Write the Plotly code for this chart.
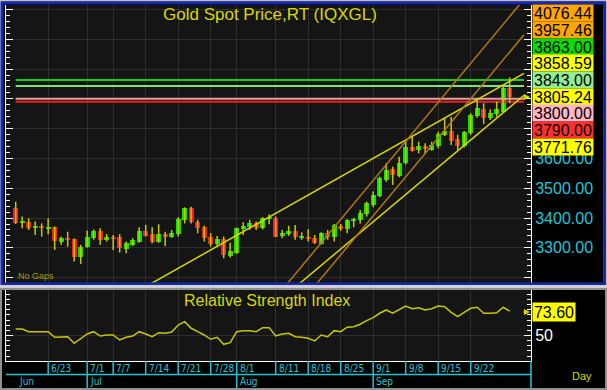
import plotly.graph_objects as go

W, H = 607, 390

# ---------------- data ----------------
tick_idx = [5, 11, 15, 20, 25, 30, 34, 40, 45, 50, 55, 60, 65, 70]
tick_labels = ["6/23", "7/1", "7/7", "7/14", "7/21", "7/28", "8/1", "8/11",
               "8/18", "8/25", "9/1", "9/8", "9/15", "9/22"]
month_idx = [0, 11, 34, 55]
month_labels = ["Jun", "Jul", "Aug", "Sep"]

opens = [3433, 3385, 3388, 3368, 3374, 3366, 3369, 3321, 3332, 3329,
         3270, 3302, 3332, 3357, 3327, 3338, 3338, 3296, 3310, 3321,
         3358, 3346, 3321, 3346, 3338, 3346, 3394, 3433, 3388, 3369,
         3338, 3313, 3329, 3273, 3282, 3362, 3371, 3382, 3366, 3396,
         3401, 3340, 3347, 3357, 3334, 3338, 3334, 3313, 3349, 3338,
         3373, 3362, 3392, 3394, 3414, 3444, 3474, 3528, 3564, 3541,
         3584, 3640, 3628, 3642, 3628, 3642, 3679, 3692, 3664, 3642,
         3685, 3743, 3765, 3735, 3748, 3757, 3836]
highs = [3455, 3405, 3399, 3388, 3382, 3399, 3372, 3338, 3354, 3331,
         3310, 3358, 3362, 3366, 3346, 3343, 3346, 3321, 3332, 3369,
         3377, 3369, 3379, 3354, 3360, 3403, 3436, 3438, 3394, 3374,
         3349, 3340, 3338, 3317, 3368, 3386, 3394, 3388, 3403, 3413,
         3405, 3360, 3374, 3377, 3352, 3362, 3343, 3352, 3360, 3380,
         3380, 3396, 3401, 3427, 3455, 3489, 3539, 3584, 3572, 3606,
         3662, 3673, 3656, 3651, 3656, 3690, 3735, 3740, 3679, 3692,
         3752, 3799, 3785, 3765, 3791, 3841, 3872]
lows = [3380, 3366, 3360, 3343, 3338, 3346, 3293, 3310, 3304, 3254,
        3246, 3300, 3327, 3310, 3321, 3293, 3284, 3282, 3306, 3317,
        3338, 3315, 3317, 3306, 3334, 3338, 3382, 3382, 3349, 3321,
        3304, 3304, 3265, 3268, 3280, 3343, 3360, 3360, 3362, 3379,
        3336, 3332, 3340, 3327, 3327, 3321, 3313, 3310, 3327, 3321,
        3357, 3349, 3369, 3382, 3405, 3436, 3470, 3522, 3511, 3537,
        3580, 3623, 3617, 3615, 3626, 3634, 3675, 3645, 3628, 3637,
        3679, 3737, 3716, 3729, 3740, 3754, 3785]
closes = [3382, 3390, 3366, 3373, 3368, 3370, 3323, 3334, 3327, 3270,
          3304, 3338, 3357, 3327, 3338, 3332, 3299, 3315, 3327, 3358,
          3341, 3321, 3346, 3338, 3351, 3397, 3433, 3388, 3368, 3334,
          3313, 3330, 3276, 3291, 3366, 3373, 3382, 3366, 3399, 3403,
          3338, 3351, 3358, 3336, 3338, 3332, 3315, 3349, 3338, 3377,
          3362, 3394, 3397, 3418, 3450, 3478, 3534, 3561, 3545, 3586,
          3640, 3625, 3642, 3631, 3645, 3682, 3692, 3659, 3642, 3690,
          3746, 3768, 3735, 3752, 3765, 3836, 3805.24]

rsi = [56.3, 56.3, 53.7, 53.7, 53.7, 53.7, 48.2, 48.8, 48.8, 42.4,
       47.3, 51.5, 53.7, 49.5, 50.5, 50.5, 45.6, 48.2, 49.5, 53.7,
       51.5, 48.8, 52.7, 52.1, 53.4, 60.2, 63.4, 57.0, 53.7, 50.5,
       46.3, 48.2, 41.4, 43.0, 53.7, 54.7, 54.7, 53.7, 57.6, 57.6,
       49.5, 51.5, 52.1, 48.8, 48.2, 47.3, 44.7, 50.5, 48.8, 54.7,
       53.7, 58.0, 58.5, 60.9, 64.4, 67.3, 71.6, 74.8, 71.6, 74.8,
       78.6, 76.0, 77.0, 74.8, 76.0, 78.6, 78.0, 72.5, 68.3, 72.5,
       76.4, 77.4, 71.6, 71.6, 72.1, 77.4, 73.6]

# horizontal price levels
h_levels = [3863.00, 3843.00, 3800.00, 3790.00]
h_colors = ["#10d010", "#80e080", "#e0a0a0", "#f02020"]
h_span = [0, 78.2]

# trend lines: (start idx, start price, end idx, end price, colour)
trend_lines = [
    (20, 3169.8, 78.2, 3885.6, "#d8d800"),
    (40, 3113.0, 78.2, 3812.0, "#d8d800"),
    (38, 3080.8, 78.2, 4134.1, "#b07810"),
    (40, 3014.3, 78.2, 4015.1, "#b07810"),
]

# right-side value boxes
box_values = [4076.44, 3957.46, 3863.00, 3858.59, 3843.00, 3805.24, 3800.00, 3790.00, 3771.76]
box_colors = ["#ffa500", "#ffa500", "#00e000", "#ffff00", "#90ee90", "#ffff00", "#ffb6c1", "#ff3030", "#ffff00"]

price_ticks = [3200, 3300, 3400, 3500, 3600, 3700, 3800, 3900, 4000, 4100]
price_ticktext = ["", "3300.00", "3400.00", "3500.00", "3600.00", "", "", "", "", ""]

rsi_last = 73.60

# ---------------- helpers ----------------
def px(x):
    return x / W

def py(y):
    return 1 - y / H

n = len(closes)
xs = list(range(n))
X_RANGE = [-1.49, 79.28]
GRID = "#2e2e2e"
CYAN = "#18c8d8"
YEL = "#d8d800"
NARROW = "Liberation Sans Narrow, DejaVu Sans Condensed, Arial Narrow, sans-serif"
ARIAL = "Liberation Sans, Arial, sans-serif"

fig = go.Figure()

# horizontal levels
for lvl, col in zip(h_levels, h_colors):
    fig.add_trace(go.Scatter(x=h_span, y=[lvl, lvl], mode="lines",
                             line=dict(color=col, width=2), hoverinfo="skip",
                             xaxis="x", yaxis="y"))

# wicks
wx, wy = [], []
for i in range(n):
    wx += [i, i, None]
    wy += [lows[i], highs[i], None]
fig.add_trace(go.Scatter(x=wx, y=wy, mode="lines", line=dict(color="#c8c800", width=1.5),
                         hoverinfo="skip", xaxis="x", yaxis="y"))

# bodies
base = [min(o, c) for o, c in zip(opens, closes)]
hgt = [max(abs(c - o), 3) for o, c in zip(opens, closes)]
cols = ["#00e600" if c >= o else "#f02020" for o, c in zip(opens, closes)]
fig.add_trace(go.Bar(x=xs, y=hgt, base=base, width=0.75, marker=dict(color=cols, line=dict(width=0)),
                     hoverinfo="skip", xaxis="x", yaxis="y"))

# trend lines
for x0, y0, x1, y1, col in trend_lines:
    fig.add_trace(go.Scatter(x=[x0, x1], y=[y0, y1], mode="lines",
                             line=dict(color=col, width=1.5), hoverinfo="skip",
                             xaxis="x", yaxis="y"))

# RSI
fig.add_trace(go.Scatter(x=xs, y=rsi, mode="lines", line=dict(color="#c8c800", width=1.5),
                         hoverinfo="skip", xaxis="x2", yaxis="y2"))


def ann(x, y, text, size, color, xref="paper", xanchor="center", **kw):
    d = dict(x=x, y=y, xref=xref, yref="paper", text=text, showarrow=False,
             xanchor=xanchor, yanchor="middle", font=dict(family=kw.pop("family", ARIAL), size=size, color=color))
    d.update(kw)
    return d


def arrow(x, y):
    return dict(x=x, y=y, xref="paper", yref="paper", text="", showarrow=True,
                ax=-8, ay=0, arrowhead=2, arrowsize=0.8, arrowwidth=1.5, arrowcolor=YEL)


annotations = []
annotations.append(ann(px(270), py(15), "Gold Spot Price,RT (IQXGL)", 17, YEL))
annotations.append(ann(px(267), py(300), "Relative Strength Index", 16, YEL))
annotations.append(ann(px(16), py(276), "No Gaps", 9, "#a0a000", xanchor="left"))
for k, (v, c) in enumerate(zip(box_values, box_colors)):
    annotations.append(ann(px(563), py(13.3 + 16.67 * k), f"{v:.2f}", 16, "black",
                           bgcolor=c, width=60, height=16, borderpad=0))
annotations.append(arrow(px(530), py(97)))
annotations.append(ann(px(554), py(312.3), f"{rsi_last:.2f}", 16, "black",
                       bgcolor="#ffff00", width=42, height=18, borderpad=0))
annotations.append(arrow(px(530), py(312)))
annotations.append(ann(px(582), py(376), "Day", 11, YEL))
for i, t in zip(tick_idx, tick_labels):
    annotations.append(ann(i, py(368), t, 10, CYAN, xref="x2", xanchor="left", xshift=1, family=NARROW))
for i, t in zip(month_idx, month_labels):
    annotations.append(ann(i, py(381), t, 10, CYAN, xref="x2", xanchor="left", xshift=1, family=NARROW))

shapes = []
# frames
shapes.append(dict(type="rect", xref="paper", yref="paper", x0=0, x1=1, y0=0, y1=1,
                   line=dict(color="#c0c0c0", width=3), layer="above"))
shapes.append(dict(type="rect", xref="paper", yref="paper", x0=px(2), x1=px(604.5), y0=py(284), y1=py(3),
                   line=dict(color="#1428b4", width=3), layer="above"))
shapes.append(dict(type="rect", xref="paper", yref="paper", x0=0, x1=1, y0=py(288.5), y1=py(285),
                   fillcolor="#d0d0d0", line=dict(width=0), layer="above"))
shapes.append(dict(type="rect", xref="paper", yref="paper", x0=px(1), x1=px(606), y0=py(389), y1=py(289),
                   line=dict(color="#909090", width=2), layer="above"))
# x-axis strip
shapes.append(dict(type="line", xref="paper", yref="paper", x0=px(6), x1=px(531), y0=py(374.5), y1=py(374.5),
                   line=dict(color=CYAN, width=1.5)))
for i in tick_idx:
    shapes.append(dict(type="line", xref="x2", yref="paper", x0=i, x1=i, y0=py(361), y1=py(374.5),
                       line=dict(color=CYAN, width=1.5)))
for i in month_idx[1:]:
    shapes.append(dict(type="line", xref="x2", yref="paper", x0=i, x1=i, y0=py(374.5), y1=py(388),
                       line=dict(color=CYAN, width=1.5)))
shapes.append(dict(type="line", xref="paper", yref="paper", x0=px(531), x1=px(531), y0=py(361), y1=py(388),
                   line=dict(color=CYAN, width=1.5)))

xdom = [px(6), px(531)]
fig.update_layout(
    width=W, height=H, margin=dict(l=0, r=0, t=0, b=0),
    paper_bgcolor="#000000", plot_bgcolor="#151515",
    showlegend=False, hovermode=False, bargap=0,
    xaxis=dict(domain=xdom, range=X_RANGE, anchor="y", tickvals=tick_idx, showticklabels=False,
               showgrid=True, gridcolor=GRID, gridwidth=1, zeroline=False, showline=False, ticks=""),
    yaxis=dict(domain=[py(283), py(5)], range=[3182, 4115], anchor="x", side="right",
               tickvals=price_ticks, ticktext=price_ticktext,
               tickfont=dict(family=ARIAL, size=16, color=CYAN),
               ticks="inside", ticklen=7, tickcolor="white", tickwidth=1,
               showline=True, linecolor="white", linewidth=1, mirror="ticks",
               showgrid=True, gridcolor=GRID, zeroline=False,
               minor=dict(dtick=20, tick0=0, ticks="inside", ticklen=4, tickcolor="white", showgrid=False)),
    xaxis2=dict(domain=xdom, range=X_RANGE, anchor="y2", tickvals=tick_idx, showticklabels=False,
                showgrid=True, gridcolor=GRID, zeroline=False, showline=True, linecolor="white",
                linewidth=1, ticks=""),
    yaxis2=dict(domain=[py(361), py(290)], range=[25.2, 94.2], anchor="x2", side="right",
                tickvals=[50], ticktext=["50"], tickfont=dict(family=ARIAL, size=16, color="white"),
                ticks="inside", ticklen=7, tickcolor="white", tickwidth=1,
                showline=True, linecolor="white", linewidth=1, mirror="ticks",
                showgrid=True, gridcolor=GRID, zeroline=False,
                minor=dict(dtick=5, tick0=0, ticks="inside", ticklen=4, tickcolor="white", showgrid=False)),
    annotations=annotations, shapes=shapes,
)

fig.write_html("out.html")
